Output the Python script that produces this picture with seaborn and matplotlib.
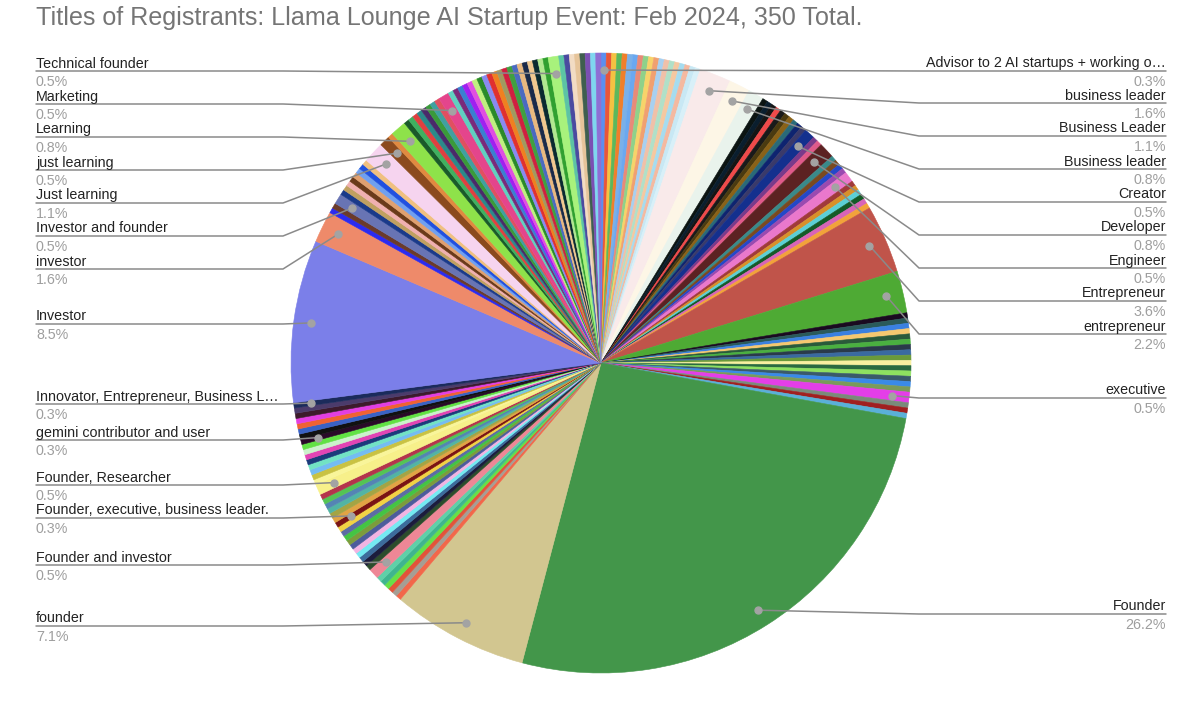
import matplotlib
matplotlib.use("Agg")
import matplotlib.pyplot as plt
import seaborn as sns
import numpy as np

W, H = 1200, 711

# Titles in the order the sheet drew them: clockwise from 12 o'clock
titles_ab = [
    "Advisor to 2 AI startups + working on my own",
    "AI Engineer", "AI enthusiast", "AI researcher", "AI product lead", "Analyst",
    "Angel investor", "Architect", "Artist", "Associate", "Attorney", "Author",
    "Board member", "Builder", "Business analyst", "Business Analyst",
    "Business development", "business development", "Business Development Lead",
    "business leader", "Business Leader", "Business leader",
]
titles_ce = [
    "Business owner", "business owner", "Business Owner", "Careers coach", "CEO",
    "ceo", "CEO & Founder", "CFO", "Co-founder", "Consultant",
    "Creator", "CTO", "Data scientist",
    "Developer", "developer", "Director", "Educator", "engineer",
    "Engineer", "Engineering lead", "Engineering Manager", "Enthusiast",
    "Entertainment", "Entrepeneur", "entrepeneur",
    "Entrepreneur", "entrepreneur",
    "Entrepreneur and investor", "Entrepreneur, Developer", "Entrepreneur, founder",
    "Entrepreneur, investor", "Entrepreneur/Engineer", "Entrepreneur/Founder",
    "entrepreneur/investor", "Entrepreneurship", "Event organizer", "Events", "Exec",
    "Executive", "Executive Coach", "Executive Director", "Executive producer",
    "executive", "Executive, founder", "Filmmaker", "Finance",
]
titles_f = [
    "Founder", "founder",
    "Founder & CEO", "Founder and CEO", "Founder and CTO", "Founder and Engineer",
    "founder and engineer", "Founder and Entrepreneur",
    "Founder and investor",
    "Founder and Investor", "Founder and product", "Founder at stealth",
    "Founder building AI", "Founder CEO", "Founder in stealth", "Founder of AI startup",
    "Founder, advisor", "Founder, CEO", "Founder, Engineer",
    "Founder, executive, business leader.",
    "Founder, investor", "Founder, Investor", "Founder, operator", "Founder, PM",
    "Founder, product", "Founder, Product manager",
    "Founder, Researcher",
    "Founder/CEO", "Founder/CTO", "founder/engineer", "Founding engineer",
    "Freelancer", "Full stack developer", "Game developer", "Gamer",
]
titles_gi = [
    "gemini contributor and user",
    "Graduate student", "Growth", "Hacker", "Head of AI", "Host", "Independent consultant",
    "Innovator, Entrepreneur, Business Leader",
    "Investor", "investor", "Investor & Advisor", "Investor and advisor",
    "Investor and founder",
    "Investor, Founder", "Investor/Advisor", "IT", "IT consultant", "Journalist",
    "Just curious", "Just interested", "just interested",
]
titles_jz = [
    "Just learning", "just learning", "Lawyer", "Learning",
    "learning", "Learning AI", "Lecturer", "Machine learning engineer", "Manager",
    "Managing Director", "Managing partner", "Marketer",
    "Marketing",
    "Marketing director", "ML Engineer", "Musician", "Operator", "Partner",
    "PhD student", "Photographer", "PM", "President", "Product", "Product designer",
    "Product Manager", "product manager", "Professor", "Recruiter", "Researcher",
    "Sales", "Software Engineer", "software engineer", "Student",
    "Technical founder",
    "Technologist", "Tinkerer", "UX designer", "VC", "Venture capital",
    "VP Engineering", "Web developer", "Writer",
]

# registrants per title (every title not listed had one registrant)
counts_named = {
    "Founder": 96, "Investor": 31, "founder": 26, "Entrepreneur": 13,
    "entrepreneur": 8, "business leader": 6, "investor": 6,
    "Business Leader": 4, "Just learning": 4,
    "Business leader": 3, "Developer": 3, "Learning": 3,
    "Technical founder": 2, "Marketing": 2, "just learning": 2,
    "Investor and founder": 2, "Creator": 2, "Engineer": 2, "executive": 2,
    "Founder, Researcher": 2, "Founder and investor": 2,
}

# labelled slices and the pixel row of their leader line
left_labels = [
    ("Technical founder", 71), ("Marketing", 104), ("Learning", 137),
    ("just learning", 170), ("Just learning", 203), ("Investor and founder", 236),
    ("investor", 269), ("Investor", 324),
    ("Innovator, Entrepreneur, Business Leader", 404),
    ("gemini contributor and user", 440), ("Founder, Researcher", 485),
    ("Founder, executive, business leader.", 518), ("Founder and investor", 565),
    ("founder", 626),
]
right_labels = [
    ("Advisor to 2 AI startups + working on my own", 71), ("business leader", 103),
    ("Business Leader", 136), ("Business leader", 169), ("Creator", 202),
    ("Developer", 235), ("Engineer", 268), ("Entrepreneur", 301),
    ("entrepreneur", 334), ("executive", 398), ("Founder", 614),
]

# slice colours, parallel to the title lists
colors_ab = [
    "#5b8ff0",
    "#e8553a", "#f5c242", "#5cb85c", "#f07f2a", "#7ab0e8", "#6aa8f0", "#e88a78",
    "#8fd18a", "#f7d36a", "#f0a070", "#a8d0f0", "#f0c0a8", "#b0e0c8", "#f5c8a0",
    "#a6dcef", "#f4b9a0", "#c8e8f4", "#d8f0f8",
    "#f9eaea", "#fdf6e6", "#e9f3ec",
]
colors_ce = [
    "#0b1412", "#0a1e2e", "#151515", "#f04a4a", "#1a1a1a", "#4a3a10", "#8a6218",
    "#2a6a78", "#0e2470", "#3a3a6a",
    "#14308e", "#7a3a8a", "#e05a8a",
    "#5c2222", "#3a8a8a", "#7a4a20", "#2448c8", "#9a4ab0",
    "#ea78cc", "#a03a3a", "#d8902a", "#5ccfd6", "#145a28", "#d864b8", "#f2a23a",
    "#c0544a", "#4eaa34",
    "#1a0a20", "#2a5a5a", "#3a80e0", "#f5c870", "#2a5a3a", "#4ab040", "#2a3a4a",
    "#3a6aa0", "#6a9a3a", "#f8f0a0", "#2a6a40", "#8ee060", "#3a5a6a", "#3a8ae8",
    "#7a9a5a",
    "#e43ee8", "#7a8a7a", "#a02020", "#5ab0d8",
]
colors_f = [
    "#43964a", "#d2c690",
    "#f2674a", "#a59e94", "#e2533a", "#66e048", "#3fb58f", "#5fd0a8",
    "#ee8796",
    "#2c4c2c", "#1c1c3c", "#3c6c9c", "#74eaf2", "#f2b4e2", "#4c5c9c", "#7c9c3c",
    "#44c444", "#5c6ca4", "#f2d244",
    "#7a1414",
    "#e2a444", "#a4a444", "#52b4a4", "#5484b4", "#54c454", "#b4344c",
    "#f7f08a",
    "#f9f59a", "#c9c243", "#74bcf2", "#72e2c4", "#1b3b7b", "#e244b4", "#cbf2cb",
    "#62e244",
]
colors_gi = [
    "#2a0a28",
    "#111111", "#3a62c4", "#f06232", "#e23fe2", "#3d1b2c", "#4b3b6b",
    "#1b2b5b",
    "#7b7fe9", "#ee8a6a", "#2b2bf0", "#6b3b2b",
    "#6874b4",
    "#1a3a8a", "#c0a060", "#f0b0b0", "#6a3a1a", "#e0a070", "#70a0f0", "#2050e0",
    "#f0c080",
]
colors_jz = [
    "#f6d4ef", "#8b4a1e", "#e08a40", "#8ee24a",
    "#1a5a2a", "#40b060", "#e04040", "#2a8a8a", "#4a2a6a", "#3a9a3a", "#40a0a0",
    "#e05060",
    "#e4458c",
    "#60d0c0", "#7a2a7a", "#3a80d0", "#a020f0", "#e050e0", "#c0f080", "#2a8a2a",
    "#8a8af0", "#e03030", "#f08020", "#a09a60", "#d02040", "#40a040", "#4a6ac0",
    "#e8b880", "#1a2a4a", "#f0c890", "#0a2a30", "#b0e890", "#30a030",
    "#a8f27c",
    "#5cc4a4", "#4a4aa0", "#f2dcc4", "#e6c49a", "#3f5f4f", "#7b4fb3", "#7fd6ef",
    "#8e6fd4",
]

titles = titles_ab + titles_ce + titles_f + titles_gi + titles_jz
counts = [counts_named.get(t, 1) for t in titles]
colors = colors_ab + colors_ce + colors_f + colors_gi + colors_jz
total = sum(counts)
idx = {t: i for i, t in enumerate(titles)}

sns.set_theme(style="white")
plt.rcParams["font.family"] = ["Liberation Sans", "DejaVu Sans"]

fig = plt.figure(figsize=(W / 100, H / 100), dpi=100)
ax = fig.add_axes([0, 0, 1, 1])

# pie in pixel units so the labels can sit on the same grid
cx, cy, R = 601, H - 363, 310
wedges, _ = ax.pie(counts, colors=colors, startangle=90, counterclock=False,
                   radius=R, center=(cx, cy), wedgeprops={"linewidth": 0.4})
for w in wedges:
    w.set_edgecolor(w.get_facecolor())
ax.set_xlim(0, W)
ax.set_ylim(0, H)
ax.set_aspect("equal")
ax.axis("off")

ax.text(36, H - 25, "Titles of Registrants: Llama Lounge AI Startup Event: Feb 2024, 350 Total.",
        fontsize=18.1, color="#757575", va="baseline")

renderer = fig.canvas.get_renderer()


def fit(txt, max_w=246):
    s = txt.get_text()
    while txt.get_window_extent(renderer).width > max_w:
        s = s[:-1]
        txt.set_text(s.rstrip() + "…")


def anchor(title):
    w = wedges[idx[title]]
    a = np.deg2rad((w.theta1 + w.theta2) / 2)
    return cx + 0.945 * R * np.cos(a), cy + 0.945 * R * np.sin(a)


for side, labels in (("left", left_labels), ("right", right_labels)):
    for title, row in labels:
        y = H - row
        px, py = anchor(title)
        pct = f"{counts[idx[title]] / total * 100:.1f}%"
        if side == "left":
            xs, x, ha = [36, 283, px], 36, "left"
        else:
            xs, x, ha = [1166, 919, px], 1166, "right"
        ax.plot(xs, [y, y, py], color="#8a8a8a", lw=1.1, zorder=3)
        ax.plot(px, py, "o", ms=5, color="#a3a3a3", zorder=4)
        t = ax.text(x, y + 3.5, title, ha=ha, va="baseline", fontsize=10.3, color="#222222")
        fit(t)
        ax.text(x, y - 4, pct, ha=ha, va="top", fontsize=10.3, color="#9e9e9e")

fig.savefig("out.png", dpi=100)
